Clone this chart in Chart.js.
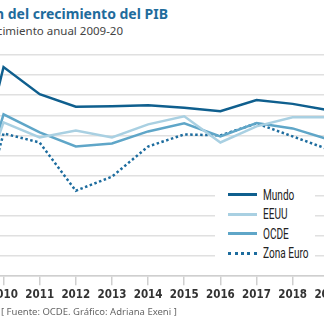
<!DOCTYPE html>
<html>
<head>
<meta charset="utf-8">
<script src="https://cdn.jsdelivr.net/npm/chart.js@4"></script>
<style>
  html, body { margin: 0; padding: 0; background: #fff; }
  body { width: 324px; height: 324px; overflow: hidden; position: relative; font-family: "Noto Sans", sans-serif; }
  .title { position: absolute; right: 156px; top: 4px; white-space: nowrap; font-weight: bold; font-size: 14px; color: #1f6c9c; }
  .subtitle { position: absolute; right: 201px; top: 23px; white-space: nowrap; font-size: 11.5px; color: #444; }
  .source { position: absolute; left: 1px; top: 305px; white-space: nowrap; font-size: 9.5px; color: #666; }
  .wrap { position: absolute; left: -50px; top: 0; width: 440px; height: 324px; }
  .legend { position: absolute; left: 215px; top: 186px; width: 100px; height: 78px; background: #fff; }
  .legend div { position: absolute; left: 13px; height: 18px; line-height: 18px; white-space: nowrap; }
  .legend span { display: inline-block; width: 29px; margin-right: 6px; vertical-align: middle; }
  .legend b { display: inline-block; font-weight: normal; font-family: Roboto, sans-serif; font-size: 14px; color: #222; transform: scaleX(0.72); transform-origin: left center; vertical-align: middle; }
</style>
</head>
<body>
<div class="title">Evolución del crecimiento del PIB</div>
<div class="subtitle">Tasa de crecimiento anual 2009-20</div>
<div class="wrap"><canvas id="gdp"></canvas></div>
<div class="legend" id="legend"></div>
<div class="source">[ Fuente: OCDE. Gráfico: Adriana Exeni ]</div>
<script>
const years = ["2009", "2010", "2011", "2012", "2013", "2014", "2015", "2016", "2017", "2018", "2019"];
const mundo = [-2.0, 5.4, 4.05, 3.43, 3.45, 3.5, 3.38, 3.2, 3.76, 3.57, 3.25];
const eeuu = [-2.5, 2.65, 1.9, 2.25, 1.9, 2.55, 2.95, 1.65, 2.45, 2.9, 2.9];
const ocde = [-3.0, 3.05, 2.15, 1.45, 1.6, 2.2, 2.6, 1.95, 2.62, 2.35, 1.8];
const zonaEuro = [-4.5, 2.1, 1.65, -0.75, -0.05, 1.45, 2.05, 2.0, 2.6, 1.95, 1.3];

const series = [
  { label: "Mundo", data: mundo, color: "#0f5f8e", dash: [] },
  { label: "EEUU", data: eeuu, color: "#a9d0e2", dash: [] },
  { label: "OCDE", data: ocde, color: "#5fa6c8", dash: [] },
  { label: "Zona Euro", data: zonaEuro, color: "#1d6c9e", dash: [2.5, 2.5] },
];

const legend = document.getElementById("legend");
series.forEach((s, i) => {
  let row = document.createElement("div");
  row.style.top = (i * 19.5 - 2) + "px";
  let sw = document.createElement("span");
  sw.style.borderTop = s.dash.length ? "3px dotted " + s.color : "3px solid " + s.color;
  let txt = document.createElement("b");
  txt.textContent = s.label;
  row.appendChild(sw);
  row.appendChild(txt);
  legend.appendChild(row);
});

new Chart(document.getElementById("gdp"), {
  type: "line",
  data: {
    labels: years,
    datasets: series.map((s) => ({
      label: s.label,
      data: s.data,
      borderColor: s.color,
      borderWidth: 2.5,
      borderDash: s.dash,
      pointRadius: 0,
      tension: 0,
      fill: false,
    })),
  },
  options: {
    responsive: true,
    maintainAspectRatio: false,
    animation: false,
    layout: { autoPadding: false, padding: { left: 16.8, right: 61.2, top: 55, bottom: 19 } },
    plugins: { legend: { display: false }, tooltip: { enabled: false } },
    scales: {
      x: {
        offset: false,
        grid: { drawOnChartArea: false, drawTicks: true, tickLength: 9, color: "#cfcfcf", lineWidth: 1.5 },
        border: { color: "#cfcfcf", width: 1.5 },
        ticks: { padding: 3, color: "#333", font: { family: "'DejaVu Sans', sans-serif", size: 11.5, weight: "bold condensed" }, maxRotation: 0, autoSkip: false },
      },
      y: {
        min: -5,
        max: 6,
        ticks: { display: false, stepSize: 1 },
        grid: { drawTicks: false, color: "#e0e0e0", lineWidth: 1.5 },
        border: { display: false },
      },
    },
  },
});
</script>
</body>
</html>
